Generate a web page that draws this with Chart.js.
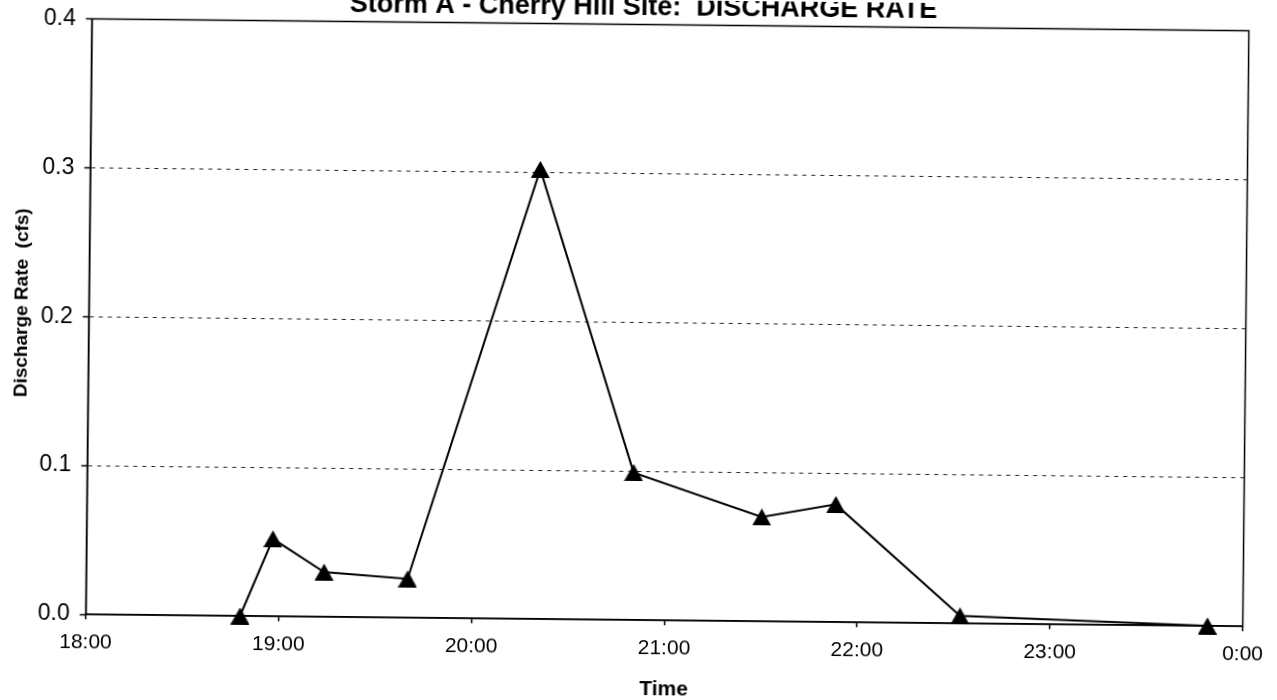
<!DOCTYPE html>
<html>
<head>
<meta charset="utf-8">
<script src="https://cdn.jsdelivr.net/npm/chart.js@4/dist/chart.umd.min.js"></script>
<style>
    html, body { margin: 0; padding: 0; background: #fff; overflow: hidden; }
    #wrap { position: relative; width: 1277px; height: 700px; }
    /* the scanned original sits slightly askew */
    #dischargeChart { position: absolute; left: 0; top: 0; transform: rotate(0.59deg); transform-origin: 50% 50%; }
</style>
</head>
<body>
<div id="wrap"><canvas id="dischargeChart" width="1277" height="700"></canvas></div>
<script>
const sampleTimes = ['18:48', '18:58', '19:14', '19:40', '20:20', '20:50', '21:30', '21:53', '22:32', '23:49'];
const dischargeCfs = [0.000, 0.052, 0.030, 0.026, 0.302, 0.099, 0.070, 0.079, 0.005, 0.000];
const xTickLabels = ['18:00', '19:00', '20:00', '21:00', '22:00', '23:00', '0:00'];

const FONT = "'Liberation Sans', Arial, sans-serif";

// hours past midnight of the storm day (after midnight -> 24+)
function toHours(t) {
    const [h, m] = t.split(':').map(Number);
    return (h < 12 ? h + 24 : h) + m / 60;
}

// Excel style triangle marker, centred on its box
function makeTriangle(w, h) {
    const c = document.createElement('canvas');
    c.width = w;
    c.height = h;
    const g = c.getContext('2d');
    g.fillStyle = '#000';
    g.beginPath();
    g.moveTo(w / 2, 0);
    g.lineTo(w, h);
    g.lineTo(0, h);
    g.closePath();
    g.fill();
    return c;
}

const plotFrame = {
    id: 'plotFrame',
    beforeDatasetsDraw(chart) {
        const { ctx, chartArea: a } = chart;
        ctx.save();
        ctx.strokeStyle = '#000';
        ctx.lineWidth = 1.5;
        ctx.strokeRect(a.left, a.top, a.right - a.left, a.bottom - a.top);
        ctx.restore();
    }
};

const points = sampleTimes.map((t, i) => ({ x: toHours(t), y: dischargeCfs[i] }));
const marker = makeTriangle(19, 17);

new Chart(document.getElementById('dischargeChart'), {
    type: 'line',
    data: {
        datasets: [{
            label: 'Discharge Rate',
            data: points,
            borderColor: '#000',
            borderWidth: 2,
            tension: 0,
            clip: false,
            pointStyle: marker,
            pointRadius: 9,
            pointBackgroundColor: '#000',
            pointBorderColor: '#000',
        }]
    },
    options: {
        responsive: false,
        animation: false,
        layout: { padding: { left: 30, right: 27, top: 0, bottom: 0 } },
        plugins: {
            legend: { display: false },
            tooltip: { enabled: false },
            title: {
                display: true,
                text: 'Storm A - Cherry Hill Site:  DISCHARGE RATE',
                color: '#000',
                font: { family: FONT, size: 27, weight: 'bold' },
                padding: { top: -8.7, bottom: 0.8 }
            }
        },
        scales: {
            x: {
                type: 'linear',
                min: 18,
                max: 24,
                afterFit: s => { s.height = 80; },
                ticks: {
                    stepSize: 1,
                    color: '#000',
                    padding: 11,
                    font: { family: FONT, size: 21 },
                    callback: v => xTickLabels[Math.round(v - 18)]
                },
                grid: { drawOnChartArea: false, tickLength: 5, tickColor: '#000', tickWidth: 1.5 },
                border: { color: '#000', width: 1.5 },
                title: {
                    display: true,
                    text: 'Time',
                    color: '#000',
                    font: { family: FONT, size: 21, weight: 'bold' },
                    padding: { top: 0, bottom: -2 }
                }
            },
            y: {
                min: 0,
                max: 0.4,
                afterFit: s => { s.width = 58.5; },
                ticks: {
                    stepSize: 0.1,
                    color: '#000',
                    padding: 10,
                    font: { family: FONT, size: 23 },
                    callback: v => v.toFixed(1)
                },
                grid: {
                    color: c => (c.tick && c.tick.value > 0.05 && c.tick.value < 0.35) ? '#222' : 'rgba(0,0,0,0)',
                    lineWidth: 1,
                    tickLength: 6,
                    tickColor: '#000',
                    tickWidth: 1.5,
                    tickBorderDash: [1, 0]
                },
                border: { color: '#000', width: 1.5, dash: [4, 5] },
                title: {
                    display: true,
                    // leading blanks nudge the label up, as in the original
                    text: '\u00a0\u00a0\u00a0\u00a0\u00a0Discharge Rate  (cfs)',
                    color: '#000',
                    font: { family: FONT, size: 19, weight: 'bold' },
                    padding: { top: -19.4, bottom: 0 }
                }
            }
        }
    },
    plugins: [plotFrame]
});
</script>
</body>
</html>
